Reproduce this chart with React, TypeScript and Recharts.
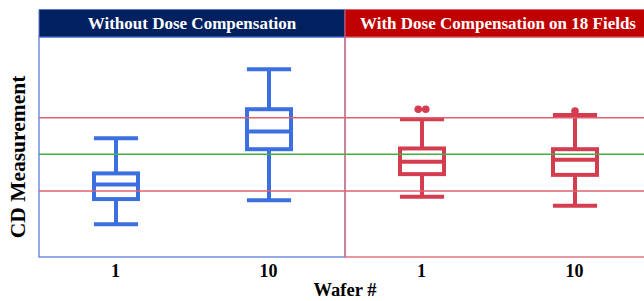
import React from 'react';
import {
  ComposedChart,
  Bar,
  XAxis,
  YAxis,
  ReferenceLine,
  ReferenceArea,
} from 'recharts';

// box plot per wafer, CD measurement (arbitrary units)
const keys = ['w1', 'w10', 'c1', 'c10'];
const waferLabels = ['1', '10', '1', '10'];
const groups = ['without', 'without', 'with', 'with'];
const whiskerLow = [80.9, 87.5, 88.4, 86.0];
const q1 = [87.8, 101.4, 94.6, 94.4];
const median = [91.8, 106.2, 98.0, 98.5];
const q3 = [94.8, 112.3, 101.6, 101.4];
const whiskerHigh = [104.4, 123.2, 109.6, 110.7];
const outliers: number[][] = [[], [], [112.3, 112.3], [111.8]];

const upperLimit = 110;
const target = 100;
const lowerLimit = 90;

const headerTitles = ['Without Dose Compensation', 'With Dose Compensation on 18 Fields'];

const data = keys.map((k, i) => ({
  key: k,
  wafer: waferLabels[i],
  group: groups[i],
  low: whiskerLow[i],
  q1: q1[i],
  median: median[i],
  q3: q3[i],
  high: whiskerHigh[i],
  outliers: outliers[i],
}));

const SERIF = "'Liberation Serif', 'Times New Roman', serif";
const BLUE = '#3c6fe0';
const RED = '#d43c50';
const NAVY = '#00205f';
const HEADER_RED = '#c00000';

function BoxShape(props: any) {
  const { x, y, width, height, payload } = props;
  const top = Math.min(y, y + height);
  const h = Math.abs(height);
  const k = h / (payload.high - payload.low);
  const py = (v: number) => top + (payload.high - v) * k;
  const color = payload.group === 'without' ? BLUE : RED;
  const cx = x + width / 2;
  const sw = 4;
  const capHalf = width * 0.46;
  const boxL = x + sw / 2;
  const boxW = width - sw;
  return (
    <g>
      <line x1={cx} x2={cx} y1={py(payload.high)} y2={py(payload.q3)} stroke={color} strokeWidth={sw} />
      <line x1={cx} x2={cx} y1={py(payload.q1)} y2={py(payload.low)} stroke={color} strokeWidth={sw} />
      <line x1={cx - capHalf} x2={cx + capHalf} y1={py(payload.high)} y2={py(payload.high)} stroke={color} strokeWidth={sw} />
      <line x1={cx - capHalf} x2={cx + capHalf} y1={py(payload.low)} y2={py(payload.low)} stroke={color} strokeWidth={sw} />
      <rect
        x={boxL}
        y={py(payload.q3)}
        width={boxW}
        height={py(payload.q1) - py(payload.q3)}
        fill="none"
        stroke={color}
        strokeWidth={sw}
      />
      <line x1={boxL} x2={boxL + boxW} y1={py(payload.median)} y2={py(payload.median)} stroke={color} strokeWidth={sw} />
      {payload.outliers.map((v: number, i: number) => {
        const n = payload.outliers.length;
        const off = (i - (n - 1) / 2) * 7.5;
        return <circle key={i} cx={cx + off} cy={py(v)} r={3.8} fill={color} />;
      })}
    </g>
  );
}

function WaferTick(props: any) {
  const { x, y, payload } = props;
  const idx = keys.indexOf(payload.value);
  return (
    <text x={x} y={y + 12} textAnchor="middle" fontFamily={SERIF} fontWeight="bold" fontSize={18} fill="#000">
      {waferLabels[idx]}
    </text>
  );
}

function XTitle(props: any) {
  const vb = props.viewBox || { x: 0, y: 0, width: 0 };
  return (
    <text x={vb.x + vb.width / 2} y={vb.y + 39} textAnchor="middle" fontFamily={SERIF} fontWeight="bold" fontSize={18.5} fill="#000">
      Wafer #
    </text>
  );
}

function YTitle(props: any) {
  const vb = props.viewBox || { x: 0, y: 0, height: 0 };
  const cx = vb.x + 25;
  const cy = vb.y + vb.height / 2 + 10;
  return (
    <text
      x={cx}
      y={cy}
      transform={`rotate(-90, ${cx}, ${cy})`}
      textAnchor="middle"
      fontFamily={SERIF}
      fontWeight="bold"
      fontSize={21.5}
      fill="#000"
    >
      CD Measurement
    </text>
  );
}

export default function App() {
  return (
    <div style={{ position: 'absolute', left: 0, top: 0, width: 644, height: 301, overflow: 'hidden', background: '#fff' }}>
      <ComposedChart width={660} height={301} data={data} margin={{ top: 37, right: 9, left: 0, bottom: 0 }}>
        <XAxis
          dataKey="key"
          type="category"
          axisLine={false}
          tickLine={false}
          height={44}
          tick={<WaferTick />}
          interval={0}
          label={<XTitle />}
        />
        <YAxis
          type="number"
          domain={[72, 132]}
          allowDataOverflow
          width={39}
          tick={false}
          axisLine={false}
          tickLine={false}
          label={<YTitle />}
        />

        {/* panel outlines */}
        <ReferenceArea x1="w1" x2="w10" y1={72} y2={132} fill="none" stroke="#6f8fe6" strokeWidth={1.5} fillOpacity={0} />
        <ReferenceArea x1="c1" x2="c10" y1={72} y2={132} fill="none" stroke="#e07584" strokeWidth={1.5} fillOpacity={0} />

        {/* header bands */}
        <ReferenceArea
          x1="w1"
          x2="w10"
          y1={132}
          y2={139.5}
          fill={NAVY}
          fillOpacity={1}
          stroke="#5a78d0"
          strokeWidth={1}
          ifOverflow="visible"
          label={{ value: headerTitles[0], position: 'center', fill: '#fff', fontSize: 17, fontWeight: 'bold', fontFamily: SERIF }}
        />
        <ReferenceArea
          x1="c1"
          x2="c10"
          y1={132}
          y2={139.5}
          fill={HEADER_RED}
          fillOpacity={1}
          stroke="#e06070"
          strokeWidth={1}
          ifOverflow="visible"
          label={{ value: headerTitles[1], position: 'center', fill: '#fff', fontSize: 17, fontWeight: 'bold', fontFamily: SERIF }}
        />

        <ReferenceLine y={upperLimit} stroke="#e0606f" strokeWidth={1.5} />
        <ReferenceLine y={target} stroke="#3fb045" strokeWidth={1.5} />
        <ReferenceLine y={lowerLimit} stroke="#e0606f" strokeWidth={1.5} />

        <Bar
          dataKey={(d: any) => [d.low, d.high]}
          barSize={48}
          shape={<BoxShape />}
          isAnimationActive={false}
        />
      </ComposedChart>
    </div>
  );
}
